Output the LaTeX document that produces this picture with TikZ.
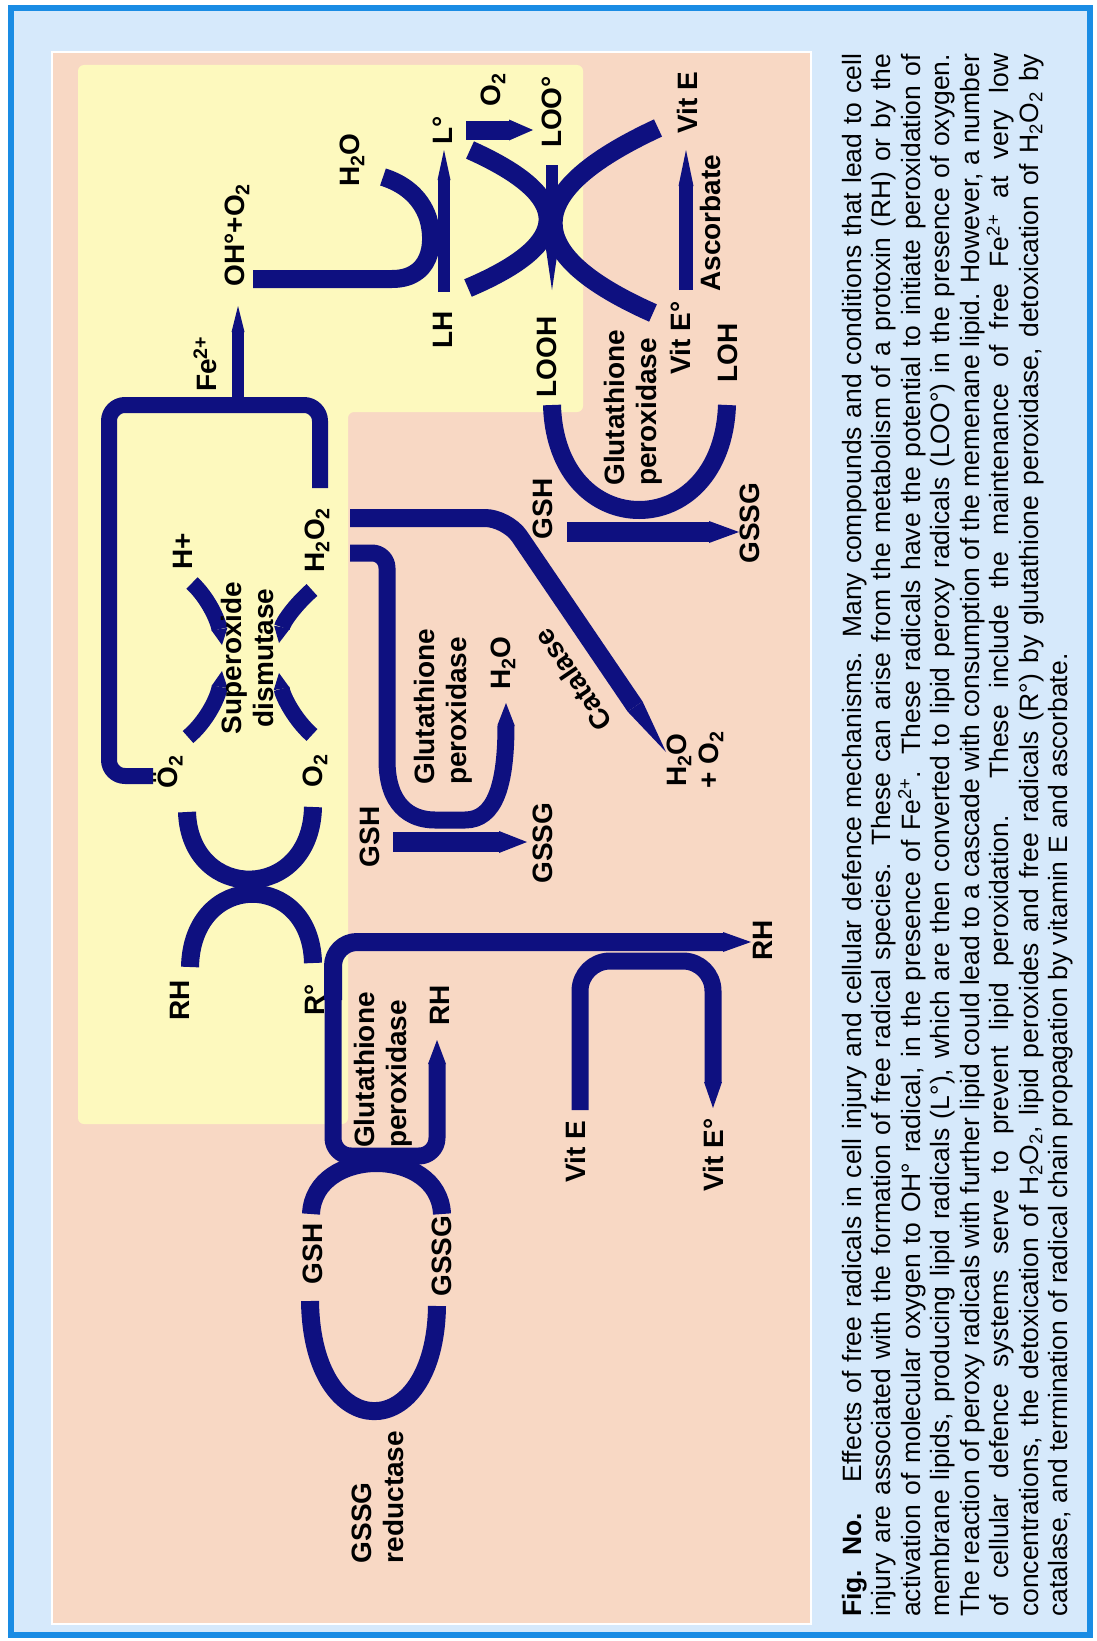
\documentclass[tikz,border=0pt]{standalone}
\usepackage{fontspec}
\setmainfont{Liberation Sans}
\usetikzlibrary{arrows.meta}
\definecolor{frameblue}{RGB}{26,140,228}
\definecolor{paleblue}{RGB}{214,233,251}
\definecolor{salmonbg}{RGB}{248,216,196}
\definecolor{paleyellow}{RGB}{253,249,190}
\definecolor{ink}{RGB}{14,16,128}
\begin{document}
\begin{tikzpicture}[x=1bp,y=-1bp,
  band/.style={draw=ink, line width=#1, line cap=butt, line join=round},
  band/.default=17bp,
  spear/.style 2 args={-{Triangle[length=#1, width=#2, line width=0pt]}},
  lab/.style={rotate=90, font=\fontsize{28bp}{32bp}\selectfont\bfseries, inner sep=0pt, align=center},
  labl/.style={lab, align=left}]
\useasboundingbox (0,0) rectangle (1096,1641);
\fill[white] (0,0) rectangle (1096,1641);
% frame and panels
\draw[line width=6bp, draw=frameblue, fill=paleblue] (11,8) rectangle (1090,1635);
\draw[line width=2bp, draw=white, fill=salmonbg] (52,52) rectangle (811,1624);
\fill[paleyellow, rounded corners=6bp] (78,65) -- (583,65) -- (583,412) -- (348,412) -- (348,1124) -- (78,1124) -- cycle;

% ---------- shapes ----------
% O2- loop to Fe2+ and H2O2
\draw[band=16bp, rounded corners=16bp] (153,776) -- (109,776) -- (109,405) -- (320,405) -- (320,488);
\draw[band=12bp, spear={26bp}{13bp}] (238,405) -- (238,306);
% OH -> H2O coupled with LH -> L
\draw[band=18bp] (253,279) -- (392,279) .. controls (430,279) and (436,245) .. (428,218) .. controls (420,195) and (402,183) .. (383,177);
\draw[band=12bp, spear={30bp}{13bp}] (444,292) -- (444,150);
% L -> LOO (O2)
\draw[band=19bp, spear={24bp}{21bp}] (466,130) -- (533,130);
% X at LOO
\draw[band=19bp] (470,150) .. controls (575,197) and (574,243) .. (468,288);
\draw[band=19bp] (658,128) .. controls (520,192) and (518,253) .. (653,313);
\draw[band=12bp, spear={44bp}{13bp}] (552,165) -- (552,290);
% Ascorbate
\draw[band=14bp, spear={36bp}{15bp}] (686,290) -- (686,150);
% K: LOOH -> LOH, GSH -> GSSG
\draw[band=18bp] (552,405) .. controls (556,545) and (722,545) .. (727,405);
\draw[band=20bp, spear={30bp}{22bp}] (567,532) -- (739,532);
% Catalase
\draw[band=18bp, rounded corners=22bp, spear={55bp}{18bp}] (350,518) -- (507,518) -- (666,752);
% Glutathione peroxidase H2O2 -> H2O
\draw[band=17bp, rounded corners=15bp, spear={22bp}{17bp}] (350,553) -- (387,553) -- (387,745) .. controls (387,805) and (410,820) .. (450,820) .. controls (495,820) and (506,785) .. (506,703);
\draw[band=20bp, spear={28bp}{22bp}] (393,842) -- (527,842);
% SOD arcs
\draw[band=16bp, spear={16bp}{16bp}] (192,583) .. controls (208,598) and (218,620) .. (222,645);
\draw[band=16bp, spear={16bp}{16bp}] (188,737) .. controls (206,722) and (218,698) .. (222,671);
\draw[band=16bp, spear={16bp}{16bp}] (312,590) .. controls (295,605) and (283,622) .. (279,643);
\draw[band=16bp, spear={16bp}{16bp}] (312,735) .. controls (295,720) and (283,697) .. (279,673);
% RH / R X
\draw[band=18bp] (187,812) .. controls (190,903) and (311,903) .. (313,807);
\draw[band=18bp] (190,967) .. controls (192,870) and (311,870) .. (313,963);
% R -> RH (vit E) long bar
\draw[band=18bp, rounded corners=24bp, spear={28bp}{20bp}] (333,1000) -- (333,942) -- (751,942);
% Vit E bracket
\draw[band=17bp, rounded corners=30bp, spear={26bp}{18bp}] (580,1110) -- (580,961) -- (713,961) -- (713,1108);
% Glutathione peroxidase R -> RH bracket
\draw[band=17bp, rounded corners=18bp, spear={24bp}{18bp}] (333,990) -- (333,1156) -- (437,1156) -- (437,1040);
\draw[band=18bp] (311,1214) .. controls (314,1146) and (439,1146) .. (442,1214);
% GSSG reductase
\draw[band=18bp] (310,1301) .. controls (312,1447) and (435,1447) .. (437,1306);

% ---------- labels ----------
\node[lab] (ohO2) at (237,235) {OH°+O\textsubscript{2}};
\node[lab] (fe) at (205,364) {Fe\textsuperscript{2+}};
\node[lab] (h2oA) at (352,160) {H\textsubscript{2}O};
\node[lab] (Ldot) at (443,130) {L°};
\node[lab] (LH) at (443,330) {LH};
\node[lab] (o2A) at (493,90) {O\textsubscript{2}};
\node[lab] (LOOr) at (552,112) {LOO°};
\node[lab] (vitEa) at (687,103) {Vit E};
\node[lab] (ascorbate) at (710,223) {Ascorbate};
\node[lab] (vitErA) at (680,338) {Vit E°};
\node[lab] (LOOH) at (547,357) {LOOH};
\node[labl] (gpxA) at (633,408) {Glutathione\\peroxidase};
\node[lab] (LOH) at (728,353) {LOH};
\node[lab] (gshA) at (543,509) {GSH};
\node[lab] (gssgA) at (750,523) {GSSG};
\node[lab] (hplus) at (183,551) {H+};
\node[lab] (h2o2) at (317,540) {H\textsubscript{2}O\textsubscript{2}};
\node[lab] (sod) at (247,658) {Superoxide\\dismutase};
\node[lab] (o2rad) at (168,772) {Ö\textsubscript{2}};
\node[lab] (o2B) at (315,771) {O\textsubscript{2}};
\node[lab] (RHa) at (180,1000) {RH};
\node[lab] (Rdot) at (315,1000) {R°};
\node[lab] (gshB) at (370,837) {GSH};
\node[labl] (gpxB) at (443,707) {Glutathione\\peroxidase};
\node[lab] (h2oB) at (503,663) {H\textsubscript{2}O};
\node[lab] (gssgB) at (543,843) {GSSG};
\node[lab, rotate=34.2] (catalase) at (573,680) {Catalase};
\node[lab] (h2oO2) at (695,760) {H\textsubscript{2}O\\+ O\textsubscript{2}};
\node[lab] (RHb) at (763,940) {RH};
\node[labl] (gpxC) at (383,1070) {Glutathione\\peroxidase};
\node[lab] (RHc) at (440,1005) {RH};
\node[lab] (vitEb) at (575,1152) {Vit E};
\node[lab] (vitErB) at (713,1155) {Vit E°};
\node[lab] (gshC) at (313,1254) {GSH};
\node[lab] (gssgC) at (442,1256) {GSSG};
\node[labl] (gssgred) at (378,1497) {GSSG\\reductase};

% ---------- caption ----------
\node[rotate=90, anchor=base west, inner sep=0pt] (caption) at (861,1617) {\parbox[t]{1563bp}{\fontsize{26.5bp}{29.5bp}\selectfont
\hbox to \linewidth{\textbf{Fig. No.}\hspace{30bp}Effects of free radicals in cell injury and cellular defence mechanisms. Many compounds and conditions that lead to cell}
\hbox to \linewidth{injury are associated with the formation of free radical species. These can arise from the metabolism of a protoxin (RH) or by the}
\hbox to \linewidth{activation of molecular oxygen to OH° radical, in the presence of Fe\textsuperscript{2+}. These radicals have the potential to initiate peroxidation of}
\hbox to \linewidth{membrane lipids, producing lipid radicals (L°), which are then converted to lipid peroxy radicals (LOO°) in the presence of oxygen.}
\hbox to \linewidth{The reaction of peroxy radicals with further lipid could lead to a cascade with consumption of the memenane lipid. However, a number}
\hbox to \linewidth{of cellular defence systems serve to prevent lipid peroxidation. These include the maintenance of free Fe\textsuperscript{2+} at very low}
\hbox to \linewidth{concentrations, the detoxication of H\textsubscript{2}O\textsubscript{2}, lipid peroxides and free radicals (R°) by glutathione peroxidase, detoxication of H\textsubscript{2}O\textsubscript{2} by}
\hbox{catalase, and termination of radical chain propagation by vitamin E and ascorbate.}}};
\end{tikzpicture}
\end{document}
